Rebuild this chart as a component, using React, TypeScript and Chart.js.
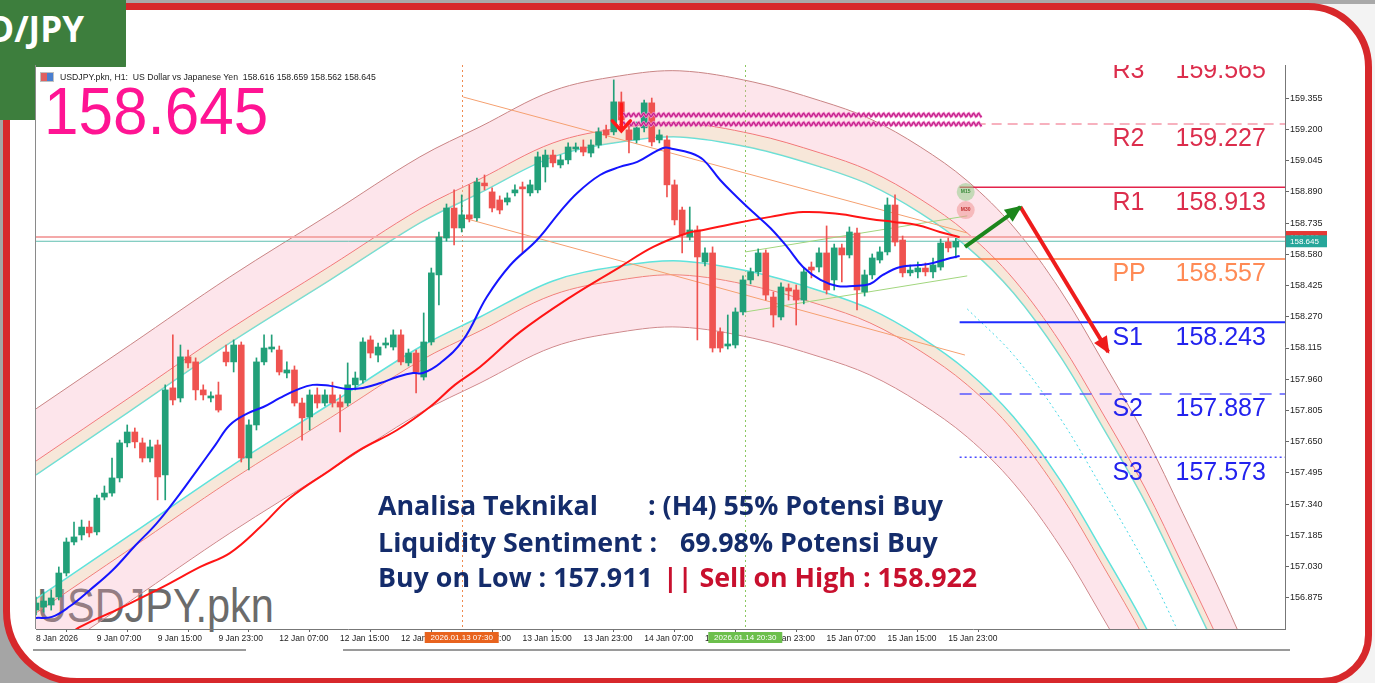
import React, { useEffect, useRef } from 'react';
import { Chart, registerables } from 'chart.js';

Chart.register(...registerables);

// ---------------- data ----------------
// H1 candles, 8 Jan 2026 23:00 .. 16 Jan 00:00 : [open, high, low, close]
const ohlc: number[][] = [
  [156.814, 156.879, 156.790, 156.849], [156.829, 156.904, 156.804, 156.859], [156.839, 156.914, 156.814, 156.874],
  [156.879, 157.028, 156.864, 156.998], [156.998, 157.172, 156.983, 157.152], [157.152, 157.251, 157.137, 157.177],
  [157.187, 157.261, 157.162, 157.226], [157.226, 157.256, 157.177, 157.197], [157.202, 157.385, 157.187, 157.370],
  [157.375, 157.430, 157.361, 157.395], [157.395, 157.569, 157.380, 157.470], [157.470, 157.658, 157.450, 157.644],
  [157.644, 157.733, 157.624, 157.698], [157.698, 157.718, 157.619, 157.649], [157.644, 157.668, 157.549, 157.569],
  [157.569, 157.658, 157.549, 157.624], [157.634, 157.658, 157.361, 157.475], [157.485, 157.932, 157.361, 157.907],
  [157.917, 158.180, 157.832, 157.857], [157.867, 158.130, 157.847, 158.071], [158.071, 158.105, 158.016, 158.041],
  [158.046, 158.066, 157.857, 157.907], [157.907, 157.932, 157.857, 157.882], [157.867, 157.897, 157.847, 157.877],
  [157.882, 157.946, 157.797, 157.807], [158.095, 158.130, 158.026, 158.046], [158.046, 158.155, 157.996, 158.130],
  [158.130, 158.145, 157.549, 157.569], [157.569, 157.758, 157.510, 157.733], [157.733, 158.066, 157.708, 158.046],
  [158.046, 158.180, 158.031, 158.115], [158.110, 158.180, 158.095, 158.120], [158.105, 158.125, 157.981, 157.996],
  [157.991, 158.046, 157.966, 158.006], [158.006, 158.026, 157.827, 157.842], [157.842, 157.867, 157.658, 157.768],
  [157.773, 157.907, 157.708, 157.882], [157.882, 157.917, 157.817, 157.842], [157.842, 157.907, 157.827, 157.882],
  [157.882, 157.946, 157.822, 157.842], [157.847, 157.882, 157.698, 157.822], [157.842, 158.041, 157.827, 157.932],
  [157.932, 157.996, 157.907, 157.966], [157.956, 158.165, 157.941, 158.145], [158.155, 158.175, 158.066, 158.090],
  [158.080, 158.140, 158.046, 158.120], [158.130, 158.165, 158.115, 158.140], [158.120, 158.205, 158.105, 158.180],
  [158.180, 158.205, 158.031, 158.046], [158.041, 158.110, 158.026, 158.090], [158.090, 158.105, 157.892, 157.996],
  [157.971, 158.289, 157.956, 158.145], [158.145, 158.512, 158.130, 158.488], [158.478, 158.691, 158.329, 158.666],
  [158.661, 158.830, 158.646, 158.810], [158.810, 158.900, 158.627, 158.711], [158.711, 158.875, 158.691, 158.776],
  [158.776, 158.925, 158.741, 158.756], [158.761, 158.959, 158.746, 158.939], [158.934, 158.974, 158.900, 158.920],
  [158.890, 158.910, 158.790, 158.810], [158.850, 158.870, 158.781, 158.800], [158.840, 158.885, 158.825, 158.860],
  [158.885, 158.925, 158.870, 158.900], [158.915, 158.939, 158.587, 158.905], [158.885, 158.949, 158.870, 158.925],
  [158.900, 159.088, 158.885, 159.064], [159.014, 159.098, 158.939, 159.073], [159.073, 159.098, 159.014, 159.034],
  [159.024, 159.073, 159.009, 159.049], [159.049, 159.133, 159.029, 159.113], [159.103, 159.133, 159.088, 159.113],
  [159.113, 159.148, 159.069, 159.088], [159.083, 159.148, 159.064, 159.123], [159.123, 159.208, 159.108, 159.188],
  [159.198, 159.222, 159.158, 159.173], [159.188, 159.446, 159.173, 159.337], [159.337, 159.386, 159.208, 159.247],
  [159.198, 159.222, 159.083, 159.148], [159.148, 159.237, 159.133, 159.208], [159.208, 159.346, 159.188, 159.332],
  [159.332, 159.356, 159.118, 159.138], [159.148, 159.198, 159.133, 159.173], [159.148, 159.168, 158.865, 158.925],
  [158.925, 158.949, 158.726, 158.751], [158.800, 158.815, 158.587, 158.676], [158.666, 158.815, 158.651, 158.701],
  [158.701, 158.721, 158.155, 158.567], [158.542, 158.612, 158.522, 158.587], [158.587, 158.617, 158.095, 158.115],
  [158.195, 158.215, 158.095, 158.115], [158.125, 158.279, 158.110, 158.135], [158.130, 158.314, 158.115, 158.294],
  [158.294, 158.473, 158.279, 158.453], [158.453, 158.512, 158.433, 158.493], [158.493, 158.607, 158.473, 158.587],
  [158.587, 158.602, 158.353, 158.378], [158.368, 158.393, 158.219, 158.279], [158.269, 158.438, 158.254, 158.418],
  [158.413, 158.433, 158.353, 158.398], [158.403, 158.428, 158.229, 158.353], [158.353, 158.512, 158.334, 158.493],
  [158.517, 158.542, 158.463, 158.502], [158.517, 158.612, 158.493, 158.587], [158.587, 158.721, 158.383, 158.403],
  [158.453, 158.631, 158.403, 158.612], [158.612, 158.631, 158.443, 158.577], [158.577, 158.716, 158.562, 158.691],
  [158.686, 158.711, 158.304, 158.403], [158.393, 158.502, 158.373, 158.478], [158.478, 158.582, 158.458, 158.562],
  [158.552, 158.617, 158.537, 158.592], [158.592, 158.860, 158.577, 158.825], [158.825, 158.875, 158.622, 158.641],
  [158.651, 158.671, 158.468, 158.488], [158.488, 158.527, 158.473, 158.502], [158.493, 158.542, 158.463, 158.512],
  [158.512, 158.537, 158.473, 158.493], [158.493, 158.562, 158.463, 158.527], [158.517, 158.656, 158.502, 158.636],
  [158.641, 158.661, 158.592, 158.612], [158.616, 158.659, 158.562, 158.645],
];

const xTickLabels = [
  '8 Jan 2026', '9 Jan 07:00', '9 Jan 15:00', '9 Jan 23:00', '12 Jan 07:00', '12 Jan 15:00', '12 Jan 23:00',
  '13 Jan 07:00', '13 Jan 15:00', '13 Jan 23:00', '14 Jan 07:00', '14 Jan 15:00', '14 Jan 23:00',
  '15 Jan 07:00', '15 Jan 15:00', '15 Jan 23:00',
];
const xTickStep = 8;
const yTickValues = [159.355, 159.2, 159.045, 158.89, 158.735, 158.58, 158.425, 158.27, 158.115, 157.96, 157.805,
  157.65, 157.495, 157.34, 157.185, 157.03, 156.875];

// moving averages: [bar index, price]
const blueMA: number[][] = [
  [0, 156.775], [2.1, 156.780], [4.5, 156.834], [7.1, 156.914], [10.1, 157.013], [13.0, 157.132], [15.9, 157.246],
  [18.9, 157.390], [21.2, 157.509], [23.6, 157.634], [25.5, 157.733], [27.9, 157.792], [29.9, 157.822], [32.1, 157.867],
  [34.3, 157.907], [36.4, 157.932], [38.7, 157.927], [40.9, 157.912], [43.0, 157.917], [45.3, 157.941], [47.5, 157.971],
  [49.6, 157.991], [50.9, 157.991], [53.2, 158.041], [56.2, 158.155], [59.3, 158.368], [62.4, 158.527], [65.9, 158.651],
  [68.9, 158.790], [71.2, 158.885], [74.2, 158.974], [76.8, 159.014], [79.1, 159.039], [82.5, 159.108], [83.8, 159.103],
  [86.1, 159.083], [87.8, 159.049], [90.0, 158.949], [92.2, 158.865], [94.3, 158.790], [96.6, 158.711], [98.8, 158.617],
  [100.9, 158.517], [103.2, 158.453], [105.4, 158.423], [107.5, 158.423], [109.7, 158.433], [111.4, 158.478],
  [113.7, 158.517], [116.3, 158.527], [118.0, 158.537], [120.3, 158.562], [121.5, 158.572],
];
const redMA: number[][] = [
  [3.2, 156.660], [5.8, 156.730], [11.1, 156.824], [16.7, 156.929], [21.6, 157.028], [25.5, 157.097], [29.5, 157.226],
  [33.4, 157.370], [38.7, 157.509], [42.6, 157.609], [47.5, 157.708], [51.8, 157.822], [55.1, 157.932], [58.4, 158.021],
  [63.7, 158.195], [70.3, 158.368], [76.8, 158.517], [81.2, 158.617], [85.7, 158.686], [87.8, 158.701], [92.2, 158.736],
  [96.6, 158.766], [100.9, 158.790], [105.4, 158.781], [109.7, 158.756], [112.8, 158.741], [115.9, 158.726],
  [118.9, 158.691], [121.5, 158.665],
];

// polynomial regression channel: centre line [bar index, price] and band offsets (price)
const channelCenter: number[][] = [
  [0, 157.177], [12.4, 157.495], [25.5, 157.832], [38.7, 158.145], [50.5, 158.428], [58.4, 158.577], [68.0, 158.756],
  [76.8, 158.830], [84.7, 158.855], [94.3, 158.800], [103.2, 158.706], [109.7, 158.617], [116.3, 158.478],
  [122.5, 158.309], [128.6, 158.080], [134.7, 157.768], [140.3, 157.415], [145.9, 157.043], [150.9, 156.656],
  [155.8, 156.268], [161.1, 155.821],
];
const bandOffsets = [0.308, 0.377, 0.636];

const pivotNames = ['R3', 'R2', 'R1', 'PP', 'S1', 'S2', 'S3'];
const pivotValues = [159.565, 159.227, 158.913, 158.557, 158.243, 157.887, 157.573];

const bidPrice = 158.645;
const askPrice = 158.666;

const orangeUpper = [[56.2, 159.361], [122.5, 158.686]];
const orangeLower = [[56.2, 158.761], [122.2, 158.080]];
const greenUpper = [[93.3, 158.592], [122.5, 158.771]];
const greenLower = [[93.3, 158.294], [122.5, 158.473]];
const forecastUp = [[122.2, 158.617], [129.5, 158.815]];
const forecastDown = [[129.5, 158.815], [141.05, 158.095]];

const markerBars = [56, 93.3];
const markerLabels = ['2026.01.13 07:30', '2026.01.14 20:30'];
const signalLevels = [159.272, 159.227];
const signalSpan = [76.8, 124.5];
const sellSignal = [77, 159.327, 159.193];
const tfBadges = ['M15', 'M30'];
const tfBadgePrices = [158.890, 158.800];
const tfBadgeBar = 122.3;

const lastBar = 121.5;
const xMax = 164.3;
const yMin = 156.72;
const yMax = 159.52;
const pivotNameBar = 141.6;
const pivotValueBar = 149.9;

// ---------------- styles ----------------
const UP = '#22a079';
const DOWN = '#ef5350';
const pivotStyle: Record<string, any> = {
  R3: { color: '#f0647e', dash: [10, 6], width: 1.2, text: '#dc2d4c' },
  R2: { color: '#f0647e', dash: [10, 6], width: 1.2, text: '#dc2d4c' },
  R1: { color: '#e3234b', dash: [], width: 1.5, text: '#dc2d4c' },
  PP: { color: '#ff7a40', dash: [], width: 1.5, text: '#ff8a55' },
  S1: { color: '#1f2cff', dash: [], width: 2, text: '#2323ee' },
  S2: { color: '#5a5aff', dash: [12, 8], width: 1.5, text: '#2323ee' },
  S3: { color: '#4a4aff', dash: [2, 3], width: 1.5, text: '#2323ee' },
};
const PINK_FILL = 'rgba(247,170,190,0.30)';
const BEIGE_FILL = 'rgba(236,196,160,0.40)';

const pts = (a: number[][]) => a.map(([x, y]) => ({ x, y }));

const fxPlugin = {
  id: 'fx',
  beforeDatasetsDraw(chart: any) {
    const { ctx, chartArea: a, scales } = chart;
    const x = scales.x;
    ctx.save();
    ctx.beginPath();
    ctx.rect(a.left, a.top, a.right - a.left, a.bottom - a.top);
    ctx.clip();
    const vcol = ['#f08a50', '#8cc860'];
    markerBars.forEach((b, k) => {
      const px = Math.round(x.getPixelForValue(b)) + 0.5;
      ctx.strokeStyle = vcol[k];
      ctx.lineWidth = 1;
      ctx.setLineDash([2, 3]);
      ctx.beginPath();
      ctx.moveTo(px, a.top);
      ctx.lineTo(px, a.bottom);
      ctx.stroke();
    });
    ctx.restore();
  },
  afterDatasetsDraw(chart: any) {
    const { ctx, chartArea: a, scales } = chart;
    const x = scales.x, y = scales.y;
    ctx.save();
    ctx.beginPath();
    ctx.rect(a.left, a.top, a.right - a.left, a.bottom - a.top);
    ctx.clip();

    // wavy signal levels
    signalLevels.forEach((lv) => {
      const x0 = x.getPixelForValue(signalSpan[0]);
      const x1 = x.getPixelForValue(signalSpan[1]);
      const py = y.getPixelForValue(lv);
      [['#f08cc8', 2.6], ['#c41e8c', 1.2]].forEach(([col, w]: any) => {
        ctx.strokeStyle = col;
        ctx.lineWidth = w;
        ctx.beginPath();
        for (let px = x0; px <= x1; px += 1) {
          const yy = py + 1.8 * Math.sin(((px - x0) / 5) * 2 * Math.PI);
          if (px === x0) ctx.moveTo(px, yy); else ctx.lineTo(px, yy);
        }
        ctx.stroke();
      });
    });

    // sell signal arrow
    {
      const sx = x.getPixelForValue(sellSignal[0]);
      const t = y.getPixelForValue(sellSignal[1]);
      const b = y.getPixelForValue(sellSignal[2]);
      ctx.strokeStyle = '#ff1a1a';
      ctx.lineWidth = 3.5;
      ctx.lineCap = 'round';
      ctx.beginPath();
      ctx.moveTo(sx, t);
      ctx.lineTo(sx, b);
      ctx.moveTo(sx - 9, b - 10);
      ctx.lineTo(sx, b);
      ctx.lineTo(sx + 9, b - 10);
      ctx.stroke();
    }

    // forecast arrow heads
    const head = (seg: number[][], color: string) => {
      const p0 = { x: x.getPixelForValue(seg[0][0]), y: y.getPixelForValue(seg[0][1]) };
      const p1 = { x: x.getPixelForValue(seg[1][0]), y: y.getPixelForValue(seg[1][1]) };
      const ang = Math.atan2(p1.y - p0.y, p1.x - p0.x);
      const L = 15, W = 7.5;
      const c = Math.cos(ang), s = Math.sin(ang);
      ctx.fillStyle = color;
      ctx.beginPath();
      ctx.moveTo(p1.x + c * 2, p1.y + s * 2);
      ctx.lineTo(p1.x - L * c + W * s, p1.y - L * s - W * c);
      ctx.lineTo(p1.x - L * c - W * s, p1.y - L * s + W * c);
      ctx.closePath();
      ctx.fill();
    };
    head(forecastUp, '#1c861c');
    head(forecastDown, '#ee1c1c');

    // timeframe badges
    const badgeFill = ['rgba(150,205,140,0.55)', 'rgba(240,150,150,0.55)'];
    const badgeText = ['#3a8a3a', '#c03030'];
    tfBadges.forEach((tname, k) => {
      const bx = x.getPixelForValue(tfBadgeBar);
      const by = y.getPixelForValue(tfBadgePrices[k]);
      ctx.fillStyle = badgeFill[k];
      ctx.beginPath();
      ctx.arc(bx, by, 9, 0, Math.PI * 2);
      ctx.fill();
      ctx.fillStyle = badgeText[k];
      ctx.font = 'bold 5px "Liberation Sans"';
      ctx.textAlign = 'center';
      ctx.textBaseline = 'middle';
      ctx.fillText(tname, bx, by);
    });

    // pivot labels
    ctx.font = '25px "Liberation Sans"';
    ctx.textAlign = 'left';
    ctx.textBaseline = 'middle';
    pivotNames.forEach((n, k) => {
      const py = y.getPixelForValue(pivotValues[k]) + 15.5;
      ctx.fillStyle = pivotStyle[n].text;
      ctx.fillText(n, x.getPixelForValue(pivotNameBar), py);
      ctx.fillText(pivotValues[k].toFixed(3), x.getPixelForValue(pivotValueBar), py);
    });
    ctx.restore();
  },
  afterDraw(chart: any) {
    const { ctx, chartArea: a, scales } = chart;
    const x = scales.x, y = scales.y;
    ctx.save();
    // left border
    ctx.strokeStyle = '#8a8a8a';
    ctx.lineWidth = 1;
    ctx.beginPath();
    ctx.moveTo(a.left - 0.5, a.top);
    ctx.lineTo(a.left - 0.5, a.bottom);
    ctx.stroke();
    // time marker boxes on the x axis
    const boxBg = ['#e8631e', '#6cbf4c'];
    ctx.font = '8px "Liberation Sans"';
    ctx.textAlign = 'center';
    ctx.textBaseline = 'middle';
    markerBars.forEach((b, k) => {
      const px = x.getPixelForValue(b);
      ctx.fillStyle = boxBg[k];
      ctx.fillRect(px - 37, x.top + 3, 74, 11);
      ctx.fillStyle = '#ffffff';
      ctx.fillText(markerLabels[k], px, x.top + 8.5);
    });
    // price boxes on the y axis
    const boxes = [[askPrice, '#e53935'], [bidPrice, '#26a69a']];
    boxes.forEach(([p, col]: any) => {
      const py = y.getPixelForValue(p);
      ctx.fillStyle = col;
      ctx.fillRect(y.left + 1, py - 6, 41, 12);
      ctx.fillStyle = '#ffffff';
      ctx.textAlign = 'left';
      ctx.fillText(Number(p).toFixed(3), y.left + 5, py + 0.5);
    });
    ctx.restore();
  },
};

export default function App() {
  const ref = useRef<HTMLCanvasElement | null>(null);

  useEffect(() => {
    document.body.style.margin = '0';
    const canvas = ref.current;
    if (!canvas) return;

    const candleColor = ohlc.map((d) => (d[3] >= d[0] ? UP : DOWN));
    const band = (off: number) => channelCenter.map(([i, p]) => ({ x: i, y: p + off }));
    const hLine = (v: number, from: number) => [{ x: from, y: v }, { x: xMax, y: v }];

    const datasets: any[] = [
      { type: 'line', data: pts(forecastUp), borderColor: '#1c861c', borderWidth: 4, pointRadius: 0, order: 1 },
      { type: 'line', data: pts(forecastDown), borderColor: '#ee1c1c', borderWidth: 4, pointRadius: 0, order: 1 },
      { type: 'line', data: pts(blueMA), borderColor: '#1515ff', borderWidth: 2, pointRadius: 0, tension: 0.4, order: 5 },
      { type: 'line', data: pts(redMA), borderColor: '#ff1515', borderWidth: 2, pointRadius: 0, tension: 0.4, order: 6 },
      {
        type: 'bar', data: ohlc.map((d, i) => ({ x: i, y: [d[2], d[1]] })), backgroundColor: candleColor,
        barThickness: 1, grouped: false, clip: 0, order: 10,
      },
      {
        type: 'bar', data: ohlc.map((d, i) => ({ x: i, y: [d[0], d[3]] })), backgroundColor: candleColor,
        barThickness: 6, minBarLength: 1, grouped: false, clip: 0, order: 9,
      },
      { type: 'line', data: pts(orangeUpper), borderColor: '#f5a070', borderWidth: 1, pointRadius: 0, order: 20 },
      { type: 'line', data: pts(orangeLower), borderColor: '#f5a070', borderWidth: 1, pointRadius: 0, order: 20 },
      { type: 'line', data: pts(greenUpper), borderColor: '#a2d67e', borderWidth: 1, pointRadius: 0, order: 20 },
      { type: 'line', data: pts(greenLower), borderColor: '#a2d67e', borderWidth: 1, pointRadius: 0, order: 20 },
      { type: 'line', data: hLine(askPrice, 0), borderColor: '#f4a9a9', borderWidth: 2, pointRadius: 0, order: 21 },
      { type: 'line', data: hLine(bidPrice, 0), borderColor: '#5fbfb0', borderWidth: 1, pointRadius: 0, order: 21 },
      ...pivotNames.map((n, k) => ({
        type: 'line', data: hLine(pivotValues[k], lastBar), borderColor: pivotStyle[n].color,
        borderWidth: pivotStyle[n].width, borderDash: pivotStyle[n].dash, pointRadius: 0, order: 22,
      })),
      {
        type: 'line', data: channelCenter.filter(([i]) => i >= 122).map(([i, p]) => ({ x: i, y: p })),
        borderColor: '#45d8e6', borderWidth: 1, borderDash: [2, 3], pointRadius: 0, tension: 0.35, order: 29,
      },
      { type: 'line', data: band(bandOffsets[2]), borderColor: '#c98585', borderWidth: 1, pointRadius: 0, tension: 0.35, fill: '+1', backgroundColor: PINK_FILL, order: 30 },
      { type: 'line', data: band(bandOffsets[1]), borderColor: '#f27272', borderWidth: 1, pointRadius: 0, tension: 0.35, fill: '+1', backgroundColor: BEIGE_FILL, order: 30 },
      { type: 'line', data: band(bandOffsets[0]), borderColor: '#5fe3dc', borderWidth: 1.5, pointRadius: 0, tension: 0.35, fill: false, order: 30 },
      { type: 'line', data: band(-bandOffsets[0]), borderColor: '#5fe3dc', borderWidth: 1.5, pointRadius: 0, tension: 0.35, fill: '+1', backgroundColor: BEIGE_FILL, order: 30 },
      { type: 'line', data: band(-bandOffsets[1]), borderColor: '#f27272', borderWidth: 1, pointRadius: 0, tension: 0.35, fill: '+1', backgroundColor: PINK_FILL, order: 30 },
      { type: 'line', data: band(-bandOffsets[2]), borderColor: '#c98585', borderWidth: 1, pointRadius: 0, tension: 0.35, fill: false, order: 30 },
    ];

    Chart.defaults.font.family = "'Liberation Sans', Arial, sans-serif";

    const chart = new Chart(canvas, {
      type: 'line',
      data: { datasets },
      plugins: [fxPlugin],
      options: {
        animation: false,
        responsive: false,
        devicePixelRatio: 1,
        events: [],
        layout: { padding: { left: 36, top: 65, right: 45, bottom: 34 } },
        plugins: { legend: { display: false }, tooltip: { enabled: false } },
        scales: {
          x: {
            type: 'linear', min: 0, max: xMax, offset: false,
            afterBuildTicks: (axis: any) => { axis.ticks = xTickLabels.map((_, k) => ({ value: k * xTickStep })); },
            afterFit: (s: any) => { s.height = 20; },
            ticks: {
              autoSkip: false, maxRotation: 0, minRotation: 0, align: 'start', padding: 2,
              color: '#222', font: { size: 8.5 },
              callback: (v: any) => xTickLabels[Math.round(Number(v) / xTickStep)] ?? '',
            },
            grid: { drawOnChartArea: false, drawTicks: true, tickLength: 3, color: '#666' },
            border: { display: true, color: '#777' },
          },
          y: {
            type: 'linear', position: 'right', min: yMin, max: yMax, beginAtZero: false,
            afterBuildTicks: (axis: any) => { axis.ticks = yTickValues.map((v) => ({ value: v })); },
            afterFit: (s: any) => { s.width = 45; },
            ticks: {
              autoSkip: false, padding: 1, color: '#222', font: { size: 9 },
              callback: (v: any) => Number(v).toFixed(3),
            },
            grid: { drawOnChartArea: false, drawTicks: true, tickLength: 4, color: '#666' },
            border: { display: true, color: '#777' },
          },
        },
      } as any,
    });
    return () => chart.destroy();
  }, []);

  const navy = '#142c6b';
  const annFont = '700 26.8px "Open Sans", "Noto Sans", sans-serif';
  const ann = (left: number, top: number, text: string, color = navy) => (
    <div style={{ position: 'absolute', left, top, font: annFont, lineHeight: '30px', color, whiteSpace: 'pre' }}>{text}</div>
  );

  return (
    <div style={{ position: 'relative', width: 1375, height: 683, overflow: 'hidden', background: '#f3f3f3', fontFamily: "'Liberation Sans', Arial, sans-serif" }}>
      <div style={{ position: 'absolute', left: 0, top: 0, width: 1375, height: 4, background: '#a9a9a9' }} />
      <div style={{ position: 'absolute', left: 0, top: 100, width: 8, height: 583, background: '#a5a5a5' }} />
      <div style={{ position: 'absolute', left: 0, top: 520, width: 220, height: 163, background: '#a5a5a5' }} />
      {/* red frame */}
      <div style={{ position: 'absolute', left: 3, top: 3, width: 1369, height: 682, boxSizing: 'border-box', border: '7px solid #d7282b', borderRadius: '40px 64px 50px 74px', background: '#ffffff' }} />
      {/* green tab */}
      <div style={{ position: 'absolute', left: 0, top: 0, width: 126, height: 120, background: '#3d7e3d', borderBottomRightRadius: 55, overflow: 'hidden' }}>
        <div style={{ position: 'absolute', right: 42, top: 9, font: '700 35px "Open Sans", sans-serif', color: '#ffffff', whiteSpace: 'nowrap', lineHeight: '40px' }}>USD/JPY</div>
      </div>
      {/* chart window background */}
      <div style={{ position: 'absolute', left: 35, top: 67, width: 1295, height: 583, background: '#ffffff' }} />
      {/* window bottom bar */}
      <div style={{ position: 'absolute', left: 33, top: 649, width: 213, height: 2, background: '#9a9a9a' }} />
      <div style={{ position: 'absolute', left: 343, top: 649, width: 947, height: 2, background: '#9a9a9a' }} />
      {/* watermark */}
      <div style={{ position: 'absolute', left: 37, top: 581, font: '41.5px "Liberation Sans", Arial, sans-serif', lineHeight: '41px', color: '#6b6b6b', transform: 'scaleY(1.17)', transformOrigin: 'top left', whiteSpace: 'nowrap' }}>USDJPY.pkn</div>

      <canvas ref={ref} width={1375} height={683} style={{ position: 'absolute', left: 0, top: 0, width: 1375, height: 683 }} />

      {/* header */}
      <div style={{ position: 'absolute', left: 40, top: 72, width: 14, height: 10, background: 'linear-gradient(90deg,#e06060 0 50%,#4a7fd0 50% 100%)', border: '1px solid #c0c0c0', boxSizing: 'border-box' }} />
      <div style={{ position: 'absolute', left: 60, top: 72, font: '8.7px "Liberation Sans", Arial, sans-serif', lineHeight: '11px', color: '#222', whiteSpace: 'pre' }}>{'USDJPY.pkn, H1:  US Dollar vs Japanese Yen  158.616 158.659 158.562 158.645'}</div>
      <div style={{ position: 'absolute', left: 44, top: 77, font: '62px "Liberation Sans", Arial, sans-serif', lineHeight: '62px', color: '#ff1493', transform: 'scaleY(1.09)', transformOrigin: 'top left', whiteSpace: 'nowrap' }}>158.645</div>

      {/* analysis text */}
      {ann(378, 490, 'Analisa Teknikal')}
      {ann(648, 490, ': (H4) 55% Potensi Buy')}
      {ann(378, 527, 'Liquidity Sentiment :')}
      {ann(680, 527, '69.98% Potensi Buy')}
      {ann(378, 562, 'Buy on Low : 157.911')}
      {ann(663, 562, '|| Sell on High : 158.922', '#c8102e')}
    </div>
  );
}
